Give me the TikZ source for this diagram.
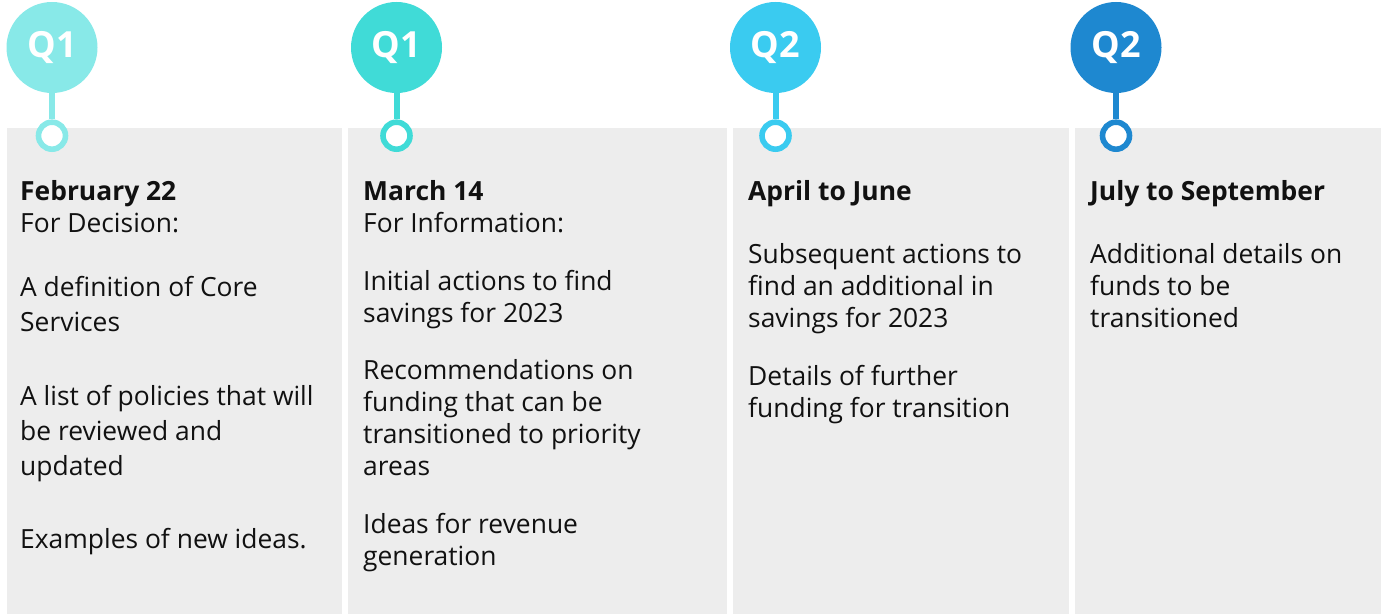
\documentclass[tikz,border=0pt]{standalone}
\usepackage{fontspec}
\setmainfont{Open Sans}
\definecolor{qa}{HTML}{88E9E8}
\definecolor{qb}{HTML}{40DBD7}
\definecolor{qc}{HTML}{3ACBF0}
\definecolor{qd}{HTML}{1E88D0}
\definecolor{panelgrey}{HTML}{EDEDED}
\definecolor{txt}{HTML}{111111}
\begin{document}
\begin{tikzpicture}[x=1pt,y=-1pt,
  panel/.style={fill=panelgrey},
  qcirc/.style={circle, minimum size=91pt, inner sep=0pt, text=white,
    font=\fontsize{36}{40}\selectfont\bfseries},
  ring/.style={circle, minimum size=27pt, inner sep=0pt, line width=5.6pt, fill=white},
  stem/.style={line width=6pt},
  head/.style={anchor=base west, inner sep=0pt, align=left, text=txt,
    font=\fontsize{26.4}{32}\selectfont},
  bodyA/.style={anchor=base west, inner sep=0pt, align=left, text=txt,
    font=\fontsize{26.4}{35}\selectfont},
  bodyB/.style={anchor=base west, inner sep=0pt, align=left, text=txt,
    font=\fontsize{26.4}{32}\selectfont}]
\useasboundingbox (0,0) rectangle (1381,615);
% panels
\fill[panel] (7,128) rectangle (342,614);
\fill[panel] (347.5,128) rectangle (726.5,614);
\fill[panel] (732.5,128) rectangle (1068.5,614);
\fill[panel] (1074.5,128) rectangle (1381,614);
% markers
\node[qcirc, fill=qa] (q1) at (52,47.5) {Q1};
\node[qcirc, fill=qb] (q2) at (396.5,47.5) {Q1};
\node[qcirc, fill=qc] (q3) at (775.5,47.5) {Q2};
\node[qcirc, fill=qd] (q4) at (1116,47.5) {Q2};
\node[ring, draw=qa] (r1) at (52,135.7) {};
\node[ring, draw=qb] (r2) at (396.5,135.7) {};
\node[ring, draw=qc] (r3) at (775.5,135.7) {};
\node[ring, draw=qd] (r4) at (1116,135.7) {};
\draw[stem, qa] (q1.south) -- (r1.north);
\draw[stem, qb] (q2.south) -- (r2.north);
\draw[stem, qc] (q3.south) -- (r3.north);
\draw[stem, qd] (q4.south) -- (r4.north);
% panel 1 (anchors at the baseline of each node's last line)
\node[head] (h1) at (20,232) {\textbf{February 22}\\For Decision:};
\node[bodyA] (a1) at (20,331) {A definition of Core\\Services};
\node[bodyA] (a2) at (20,475) {A list of policies that will\\be reviewed and\\updated};
\node[bodyA] (a3) at (20,548) {Examples of new ideas.};
% panel 2
\node[head] (h2) at (363,232) {\textbf{March 14}\\For Information:};
\node[bodyB] (b1) at (363,322) {Initial actions to find\\savings for 2023};
\node[bodyB] (b2) at (363,475) {Recommendations on\\funding that can be\\transitioned to priority\\areas};
\node[bodyB] (b3) at (363,565) {Ideas for revenue\\generation};
% panel 3
\node[head] (h3) at (748,200) {\textbf{April to June}};
\node[bodyB] (c1) at (748,327) {Subsequent actions to\\find an additional in\\savings for 2023};
\node[bodyB] (c2) at (748,417) {Details of further\\funding for transition};
% panel 4
\node[head] (h4) at (1090,200) {\textbf{July to September}};
\node[bodyB] (d1) at (1090,327) {Additional details on\\funds to be\\transitioned};
\end{tikzpicture}
\end{document}
